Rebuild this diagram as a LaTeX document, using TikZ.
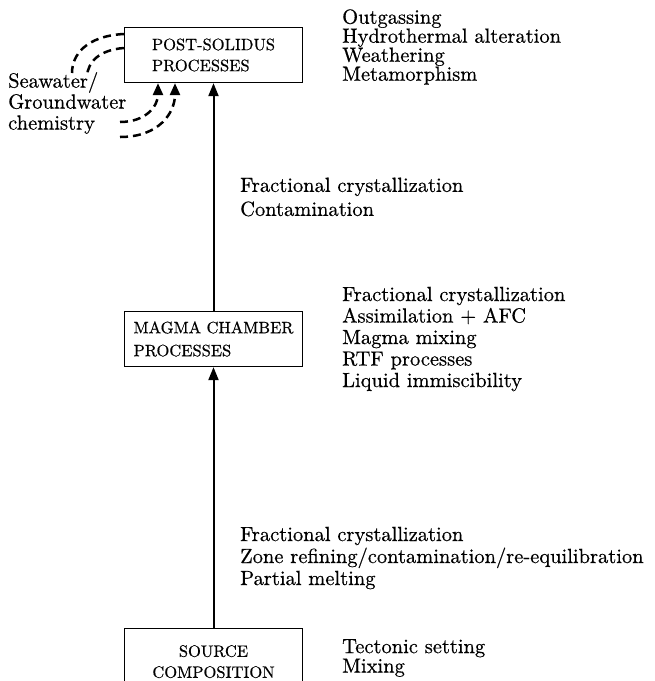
\documentclass[tikz,border=0pt]{standalone}
\usepackage{fontspec}
\setmainfont{lmroman10-regular.otf}[FakeBold=0.5]
\usepackage{tikz}
\usetikzlibrary{arrows.meta}

\begin{document}
\begin{tikzpicture}[x=1pt,y=-1pt,
  procbox/.style={draw,line width=1.3pt,minimum width=178pt,minimum height=55pt,
    inner sep=2pt,font=\fontsize{16.5}{21}\selectfont,align=left},
  lbl/.style={anchor=west,align=left,inner sep=0pt,font=\fontsize{20.5}{21.5}\selectfont},
  flow/.style={line width=2pt,-{Triangle[length=13pt,width=10pt]}},
  seaflow/.style={line width=2.5pt,dash pattern=on 8pt off 5pt}]

\useasboundingbox (0,0) rectangle (655,681);
\clip (0,0) rectangle (655,681);

% Boxes
\node[procbox] (post) at (213.5,55) {POST-SOLIDUS\\PROCESSES};
\node[procbox,font=\fontsize{16.5}{23}\selectfont] (magma) at (213.5,339) {MAGMA CHAMBER\\PROCESSES};
\node[procbox,align=center,anchor=north,minimum height=66pt] (source) at (213.5,628) {SOURCE\\COMPOSITION};

% Arrows
\draw[flow] (source) -- (magma);
\draw[flow] (magma) -- (post);

% Labels
\node[lbl,font=\fontsize{20.5}{19}\selectfont] (postlist) at (342,47) {Outgassing\\Hydrothermal alteration\\Weathering\\Metamorphism};
\node[lbl,font=\fontsize{20.5}{24}\selectfont] (upperlist) at (240,197) {Fractional crystallization\\Contamination};
\node[lbl] (magmalist) at (342,339) {Fractional crystallization\\Assimilation + AFC\\Magma mixing\\RTF processes\\Liquid immiscibility};
\node[lbl,font=\fontsize{20.5}{22}\selectfont] (lowerlist) at (240,558) {Fractional crystallization\\Zone refining/contamination/re-equilibration\\Partial melting};
\node[lbl,font=\fontsize{20.5}{19.5}\selectfont] (sourcelist) at (342,658) {Tectonic setting\\Mixing};
\node[lbl,font=\fontsize{20.5}{21}\selectfont] (water) at (8,103) {Seawater/\\Groundwater\\chemistry};

% Dashed loops round the water label
\coordinate (ya) at (0,34);
\coordinate (yb) at (0,48);
\coordinate (wa) at (72,73);
\coordinate (wb) at (87,76);
\coordinate (wc) at (120,122);
\coordinate (wd) at (120,137);
\coordinate (tipa) at (158,0);
\coordinate (tipb) at (175,0);
\draw[seaflow] (post.west |- ya) .. controls (86,36) and (72,55) .. (wa);
\draw[seaflow] (post.west |- yb) .. controls (99,50) and (88,62) .. (wb);
\draw[seaflow,-{Triangle[length=12pt,width=10pt]}] (wc) .. controls (146,122) and (158,106) .. (post.south -| tipa);
\draw[seaflow,-{Triangle[length=12pt,width=10pt]}] (wd) .. controls (160,137) and (175,112) .. (post.south -| tipb);

\end{tikzpicture}
\end{document}
